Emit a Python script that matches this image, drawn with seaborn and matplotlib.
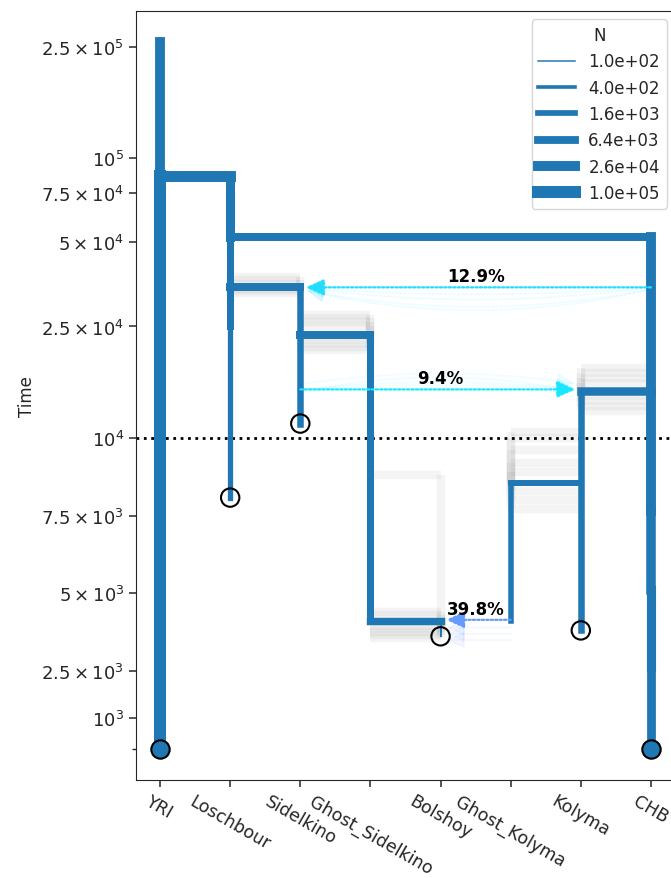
import numpy as np
import pandas as pd
import matplotlib
matplotlib.use("Agg")
import matplotlib.pyplot as plt
from matplotlib.colors import LogNorm
from matplotlib.lines import Line2D
from matplotlib.ticker import FixedLocator
import seaborn as sns

# ---------------------------------------------------------------- data
populations = ["YRI", "Loschbour", "Sidelkino", "Ghost_Sidelkino",
               "Bolshoy", "Ghost_Kolyma", "Kolyma", "CHB"]

# deme lifetimes (vertical tubes): deme, older end, younger end, size N
tube_pop = ["YRI", "YRI", "Loschbour", "Loschbour", "Loschbour",
            "CHB", "CHB", "CHB", "CHB", "Sidelkino", "Ghost_Sidelkino",
            "Bolshoy", "Kolyma", "Ghost_Kolyma"]
tube_start = [2.6e5, 8.6e4, 8.6e4, 5.2e4, 2.5e4,
              5.2e4, 7.66e3, 5.1e3, 2.63e3, 3.45e4, 2.34e4,
              4.1e3, 1.47e4, 8.56e3]
tube_end = [8.6e4, 0.0, 5.2e4, 2.5e4, 8.08e3,
            7.66e3, 5.1e3, 2.63e3, 0.0, 1.125e4, 4.1e3,
            3.62e3, 3.81e3, 4.1e3]
tube_N = [2.5e4, 1.0e5, 1.4e4, 3.7e3, 1.2e3,
          2.5e4, 2.0e4, 1.5e4, 1.2e4, 2.7e3, 3.7e3,
          1.4e2, 2.7e3, 1.4e3]

# splits: child deme branching from its parent
split_child = ["Loschbour", "CHB", "Sidelkino", "Ghost_Sidelkino",
               "Bolshoy", "Kolyma", "Ghost_Kolyma"]
split_parent = ["YRI", "Loschbour", "Loschbour", "Sidelkino",
                "Ghost_Sidelkino", "CHB", "Kolyma"]
split_time = [8.6e4, 5.2e4, 3.45e4, 2.34e4, 4.1e3, 1.47e4, 8.56e3]
split_N = [5.0e4, 7.0e3, 7.0e3, 7.0e3, 5.0e3, 1.0e4, 1.9e3]

# bootstrap replicates of split times
boot_child = (["Sidelkino"] * 6 + ["Ghost_Sidelkino"] * 8 + ["Kolyma"] * 8
              + ["Ghost_Kolyma"] * 8 + ["Bolshoy"] * 8)
boot_time = [3.75e4, 3.65e4, 3.55e4, 3.4e4, 3.35e4, 3.3e4,
             2.75e4, 2.68e4, 2.6e4, 2.52e4, 2.25e4, 2.18e4, 2.12e4, 2.06e4,
             1.78e4, 1.7e4, 1.63e4, 1.57e4, 1.41e4, 1.36e4, 1.3e4, 1.25e4,
             1.05e4, 1.0e4, 9.6e3, 9.2e3, 8.9e3, 8.3e3, 8.0e3, 7.7e3,
             8.8e3, 4.4e3, 4.3e3, 3.95e3, 3.85e3, 3.75e3, 3.65e3, 3.55e3]

# sampled lineages
sample_pop = ["YRI", "Loschbour", "Sidelkino", "Bolshoy", "Kolyma", "CHB"]
sample_time = [0.0, 8.08e3, 1.125e4, 3.62e3, 3.81e3, 0.0]

# admixture pulses
pulse_src = ["CHB", "Sidelkino", "Ghost_Kolyma"]
pulse_dst = ["Sidelkino", "Kolyma", "Bolshoy"]
pulse_time = [3.45e4, 1.49e4, 4.15e3]
pulse_frac = [0.129, 0.094, 0.398]

# bootstrap replicates of the pulses
boot_pulse = [0, 0, 0, 0, 1, 1, 1, 1, 2, 2, 2]
boot_pulse_time = [3.45e4, 3.45e4, 3.4e4, 3.4e4,
                   1.49e4, 1.55e4, 1.45e4, 1.49e4,
                   3.9e3, 3.7e3, 3.5e3]
boot_pulse_bend = [-0.04, -0.07, -0.1, -0.12,
                   -0.05, -0.08, -0.11, -0.03,
                   0.0, 0.0, 0.0]

legend_N = [100, 400, 1600, 6400, 25600, 102400]

ytick_vals = [1e3, 2.5e3, 5e3, 7.5e3, 1e4, 2.5e4, 5e4, 7.5e4, 1e5, 2.5e5]
ytick_labels = [r"$10^{3}$", r"$2.5\times10^{3}$", r"$5\times10^{3}$",
                r"$7.5\times10^{3}$", r"$10^{4}$", r"$2.5\times10^{4}$",
                r"$5\times10^{4}$", r"$7.5\times10^{4}$", r"$10^{5}$",
                r"$2.5\times10^{5}$"]

# ---------------------------------------------------------------- style
sns.set_style("ticks")
plt.rcParams["font.family"] = ["DejaVu Sans"]
BLUE = "#1f77b4"
N_MIN, N_MAX = legend_N[0], legend_N[-1]
HEAD = "-|>,head_length=0.55,head_width=0.25"


def width_pt(n):
    return 0.72 * (1.5 + 3.5 * (np.log10(n) - 2.0))


xpos = {p: i for i, p in enumerate(populations)}

fig = plt.figure(figsize=(6.71, 8.79), dpi=100)
ax = fig.add_axes([136 / 671, 98 / 879, 539 / 671, 769 / 879])
ax.set_yscale("symlog", linthresh=1e4, linscale=1)

# ---------------------------------------------------------------- bootstrap haze
haze_rows = []
for k, (c, t) in enumerate(zip(boot_child, boot_time)):
    j = split_child.index(c)
    xc, xp = xpos[c], xpos[split_parent[j]]
    haze_rows += [(k, "h", xp, t), (k, "h", xc, t)]
    haze_rows += [(k, "v", xc, t), (k, "v", xc, split_time[j])]
haze = pd.DataFrame(haze_rows, columns=["rep", "part", "x", "t"])
haze["unit"] = haze["rep"].astype(str) + haze["part"]
sns.lineplot(data=haze, x="x", y="t", units="unit", estimator=None,
             sort=False, color="0.3", alpha=0.06, linewidth=6,
             solid_capstyle="butt", legend=False, ax=ax, zorder=1)

# reference line at the linear/log threshold
ax.axhline(1e4, color="black", linestyle=":", linewidth=2, zorder=1.2)

# ---------------------------------------------------------------- pulses (bootstrap)
cmap = plt.get_cmap("cool")
for i, t, bend in zip(boot_pulse, boot_pulse_time, boot_pulse_bend):
    ax.annotate("", xy=(xpos[pulse_dst[i]], t),
                xytext=(xpos[pulse_src[i]], t),
                arrowprops=dict(arrowstyle=HEAD,
                                color=cmap(pulse_frac[i]), lw=1.5,
                                linestyle=(0, (1, 1)), alpha=0.07,
                                shrinkA=0, shrinkB=4, mutation_scale=20,
                                connectionstyle=f"arc3,rad={bend}"),
                zorder=1.5)

# ---------------------------------------------------------------- demes
seg_rows = []
for k, (p, t0, t1, n) in enumerate(zip(tube_pop, tube_start, tube_end, tube_N)):
    seg_rows += [(f"v{k}", xpos[p], t0, n), (f"v{k}", xpos[p], t1, n)]
for k, (c, p, t, n) in enumerate(zip(split_child, split_parent, split_time, split_N)):
    seg_rows += [(f"h{k}", xpos[p], t, n), (f"h{k}", xpos[c], t, n)]
segs = pd.DataFrame(seg_rows, columns=["seg", "x", "t", "N"])
sns.lineplot(data=segs, x="x", y="t", units="seg", estimator=None, sort=False,
             size="N", sizes=(width_pt(N_MIN), width_pt(N_MAX)),
             size_norm=LogNorm(N_MIN, N_MAX), color=BLUE,
             solid_capstyle="projecting", legend=False, ax=ax, zorder=2)

# ---------------------------------------------------------------- pulses
for s, d, t, f in zip(pulse_src, pulse_dst, pulse_time, pulse_frac):
    xs, xd = xpos[s], xpos[d]
    ax.annotate("", xy=(xd, t), xytext=(xs, t),
                arrowprops=dict(arrowstyle=HEAD,
                                color=cmap(f), lw=1.6, linestyle=(0, (1, 1)),
                                shrinkA=0, shrinkB=4, mutation_scale=20),
                zorder=3)
    ax.annotate(f"{f * 100:.1f}%", xy=((xs + xd) / 2, t), xytext=(0, 1.5),
                textcoords="offset points", ha="center", va="bottom",
                fontsize=12, fontweight="bold", color="black", zorder=4)

# ---------------------------------------------------------------- samples
samp = pd.DataFrame({"x": [xpos[p] for p in sample_pop], "t": sample_time})
modern = samp["t"] == 0
sns.scatterplot(data=samp[~modern], x="x", y="t", s=175, marker="o",
                facecolors="none", edgecolor="black", linewidth=1.5,
                ax=ax, zorder=5, legend=False)
sns.scatterplot(data=samp[modern], x="x", y="t", s=175, marker="o",
                color=BLUE, edgecolor="black", linewidth=1.5,
                ax=ax, zorder=5, legend=False)

# ---------------------------------------------------------------- axes
ax.set_xlim(-0.343, 7.343)
ax.set_ylim(-1.0e3, 3.35e5)
ax.set_xticks(range(len(populations)))
ax.set_xticklabels(populations, rotation=-30, ha="center", fontsize=12.5)
ax.yaxis.set_major_locator(FixedLocator(ytick_vals))
ax.set_yticklabels(ytick_labels, fontsize=13)
ax.yaxis.set_minor_locator(FixedLocator([0.0]))
ax.tick_params(axis="both", which="major", length=5, width=1.1, colors="0.15")
ax.tick_params(axis="y", which="minor", length=3, width=1.0)
ax.set_xlabel("")
ax.set_ylabel("Time", fontsize=12)

handles = [Line2D([], [], color=BLUE, linewidth=width_pt(n),
                  solid_capstyle="projecting") for n in legend_N]
ax.legend(handles, [f"{n:.1e}" for n in legend_N], title="N",
          loc="upper right", fontsize=12, title_fontsize=12,
          handlelength=2.2, frameon=True)

fig.savefig("out.png", dpi=100)
